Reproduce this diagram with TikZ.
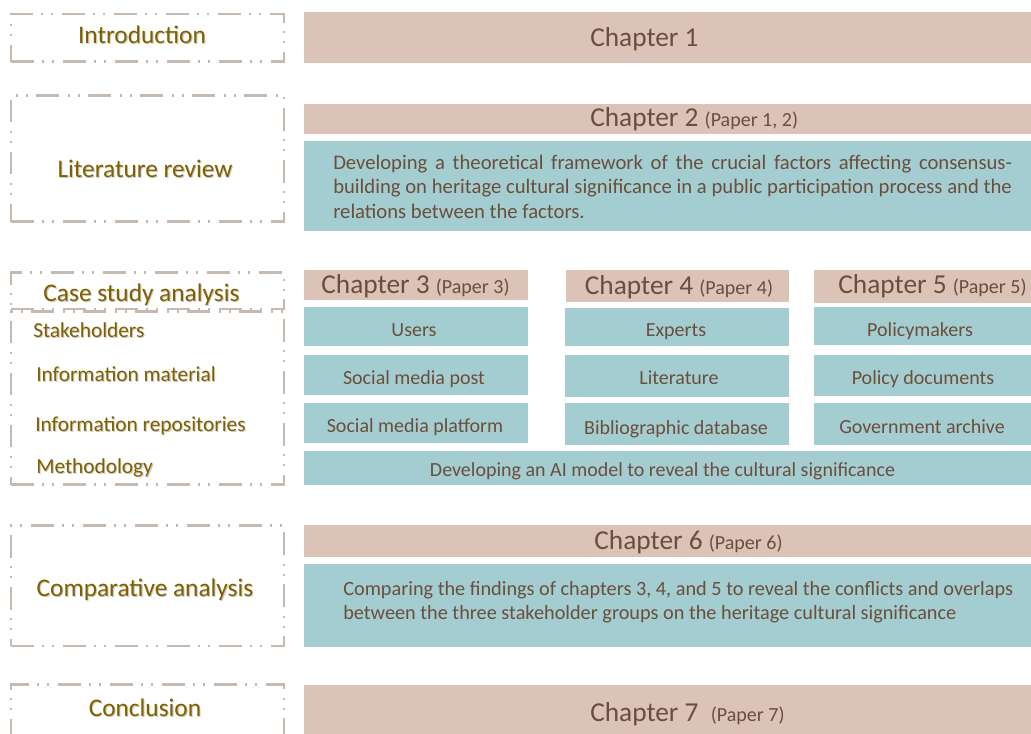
\documentclass[tikz,border=0pt]{standalone}
\usepackage{fontspec}
\setmainfont{Carlito}
\usetikzlibrary{fit}

\definecolor{chapfill}{HTML}{DBC3B8}
\definecolor{taskfill}{HTML}{A3CDD0}
\definecolor{boxtext}{HTML}{6B4E3C}
\definecolor{phasetext}{HTML}{7F6000}
\definecolor{phaseline}{HTML}{C6B9AF}
\definecolor{phaseshadow}{HTML}{CFCAC0}

% text with a soft drop shadow, for the phase labels
\newcommand\shadowed[1]{\rlap{\kern0.8pt\raisebox{-0.8pt}{\textcolor{phaseshadow}{#1}}}#1}
% smaller "(Paper n)" note after a chapter title
\newcommand\paperref[1]{{\fontsize{15}{18}\selectfont #1}}

\tikzset{
  chapbox/.style={fill=chapfill, inner sep=0pt, outer sep=0pt},
  taskbox/.style={fill=taskfill, inner sep=0pt, outer sep=0pt},
  phasebox/.style={draw=phaseline, line width=2.2pt,
    dash pattern=on 17pt off 6.5pt on 1.6pt off 5.8pt on 1.6pt off 6.5pt,
    inner sep=0pt, outer sep=0pt},
  phaselabel/.style={text=phasetext, font=\fontsize{19}{22}\selectfont,
    inner sep=0pt, anchor=base},
  itemlabel/.style={text=phasetext, font=\fontsize{16}{19}\selectfont,
    inner sep=0pt, anchor=base west},
  chaptitle/.style={text=boxtext, font=\fontsize{20.5}{24}\selectfont,
    inner sep=0pt},
  tasktext/.style={text=boxtext, font=\fontsize{15}{18}\selectfont,
    inner sep=0pt, anchor=base},
  taskpara/.style={text=boxtext, inner sep=0pt, anchor=base west},
}

\begin{document}
\begin{tikzpicture}[x=0.75pt,y=-0.75pt]
\useasboundingbox (0,0) rectangle (1031,733);
\clip (0,0) rectangle (1031,733);

% ---------- phase frames (left column) ----------
\node[phasebox, fit={(11,14) (284,61.5)}] (introF) {};
\node[phasebox, fit={(11,95.5) (284,221.5)}] (litF) {};
\node[phasebox, fit={(11,272.5) (284,309)}] (caseHeadF) {};
\node[phasebox, fit={(11,311.5) (284,484.5)}] (caseBodyF) {};
\node[phasebox, fit={(11,525.5) (284,646)}] (compF) {};
\node[phasebox, fit={(11,684.5) (284,780)}] (conclF) {};

\node[phaselabel] (introL) at (142,43) {\shadowed{Introduction}};
\node[phaselabel] (litL) at (145,177) {\shadowed{Literature review}};
\node[phaselabel] (caseL) at (141.5,301) {\shadowed{Case study analysis}};
\node[itemlabel] (stakeL) at (33,337) {\shadowed{Stakeholders}};
\node[itemlabel] (matL) at (36,381) {\shadowed{Information material}};
\node[itemlabel] (repoL) at (35,431) {\shadowed{Information repositories}};
\node[itemlabel] (methL) at (36,473) {\shadowed{Methodology}};
\node[phaselabel] (compL) at (145,596) {\shadowed{Comparative analysis}};
\node[phaselabel] (conclL) at (145,716) {\shadowed{Conclusion}};

% ---------- Chapter 1 ----------
\node[chapbox, fit={(304,12) (1040,62.5)}] (ch1) {};
\node[chaptitle, anchor=base west] (ch1T) at (590,46) {Chapter 1};

% ---------- Chapter 2 ----------
\node[chapbox, fit={(304,103.5) (1040,133.5)}] (ch2) {};
\node[chaptitle, anchor=base west] (ch2T) at (590,126) {Chapter 2 \paperref{(Paper 1, 2)}};
\node[taskbox, fit={(304,141) (1040,230.5)}] (ch2task) {};
\node[taskpara, align=justify, text width=509pt, font=\fontsize{15.5}{18.4}\selectfont] (ch2P) at (333,169)
  {Developing a theoretical framework of the crucial factors affecting consensus-\linebreak
   building on heritage cultural significance in a public participation process and the\linebreak
   relations between the factors.};

% ---------- Chapters 3, 4, 5 ----------
\node[chapbox, fit={(304,269.5) (527.5,300)}] (ch3) {};
\node[chapbox, fit={(566,270) (788.5,301.5)}] (ch4) {};
\node[chapbox, fit={(814,270) (1040,302.5)}] (ch5) {};
\node[chaptitle, anchor=base] (ch3T) at (415.5,293) {Chapter 3 \paperref{(Paper 3)}};
\node[chaptitle, anchor=base] (ch4T) at (679,294) {Chapter 4 \paperref{(Paper 4)}};
\node[chaptitle, anchor=base] (ch5T) at (932.5,293) {Chapter 5 \paperref{(Paper 5)}};

% row: stakeholders
\node[taskbox, fit={(304,307) (528,345.5)}] (usersB) {};
\node[taskbox, fit={(565,307.5) (788.5,345.5)}] (expertsB) {};
\node[taskbox, fit={(814,307) (1040,344.5)}] (policyB) {};
\node[tasktext] (usersT) at (414,336) {Users};
\node[tasktext] (expertsT) at (676,336.5) {Experts};
\node[tasktext] (policyT) at (920,336.5) {Policymakers};

% row: information material
\node[taskbox, fit={(304,355) (528,395)}] (postB) {};
\node[taskbox, fit={(565,355) (788.5,396.5)}] (litB) {};
\node[taskbox, fit={(814,355) (1040,396)}] (docsB) {};
\node[tasktext] (postT) at (414,384) {Social media post};
\node[tasktext] (litT) at (679,384) {Literature};
\node[tasktext] (docsT) at (923,384) {Policy documents};

% row: information repositories
\node[taskbox, fit={(304,403) (528,443)}] (platB) {};
\node[taskbox, fit={(565,403) (788.5,445)}] (biblioB) {};
\node[taskbox, fit={(814,403) (1040,445)}] (archB) {};
\node[tasktext] (platT) at (415,432) {Social media platform};
\node[tasktext] (biblioT) at (676,434) {Bibliographic database};
\node[tasktext] (archT) at (922,433) {Government archive};

% row: methodology
\node[taskbox, fit={(304,451) (1040,485)}] (methB) {};
\node[tasktext] (methT) at (662.5,476) {Developing an AI model to reveal the cultural significance};

% ---------- Chapter 6 ----------
\node[chapbox, fit={(304,525) (1040,557)}] (ch6) {};
\node[chaptitle, anchor=base] (ch6T) at (688.5,549) {Chapter 6 \paperref{(Paper 6)}};
\node[taskbox, fit={(304,563.5) (1040,646.5)}] (ch6task) {};
\node[taskpara, align=left, font=\fontsize{15.2}{18}\selectfont] (ch6P) at (343,619)
  {Comparing the findings of chapters 3, 4, and 5 to reveal the conflicts and overlaps\\
   between the three stakeholder groups on the heritage cultural significance};

% ---------- Chapter 7 ----------
\node[chapbox, fit={(304,685) (1040,780)}] (ch7) {};
\node[chaptitle, anchor=base west] (ch7T) at (590,721) {Chapter 7 \ \paperref{(Paper 7)}};
\end{tikzpicture}
\end{document}
